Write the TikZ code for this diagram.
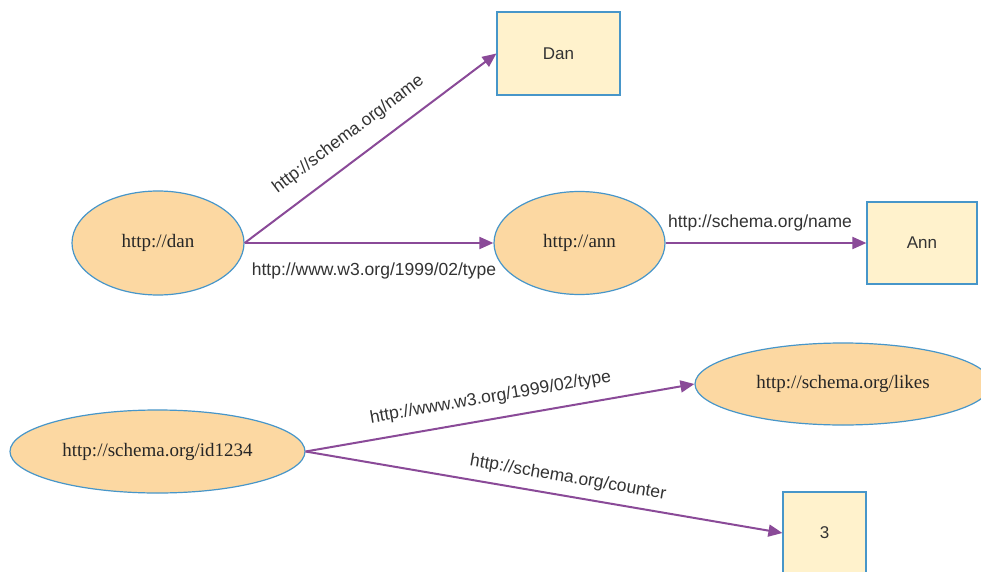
\documentclass[tikz,border=0pt]{standalone}
\usepackage{fontspec}
\setmainfont{Liberation Serif}
\setsansfont{Liberation Sans}
\usetikzlibrary{arrows.meta,shapes.geometric}
\definecolor{peach}{HTML}{FCD8A2}
\definecolor{cream}{HTML}{FFF2CC}
\definecolor{rim}{HTML}{4796C9}
\definecolor{link}{HTML}{8A4A98}
\definecolor{lbl}{HTML}{333333}

\tikzset{
  res/.style={ellipse,draw=rim,fill=peach,line width=1.2pt,inner sep=0,text=black!85,font=\fontsize{19}{22}\selectfont},
  lit/.style={rectangle,draw=rim,fill=cream,line width=1.2pt,inner sep=0,text=lbl,font=\sffamily\fontsize{17}{20}\selectfont},
  prop/.style={draw=link,line width=2pt,-{Triangle[length=14pt,width=12pt]}},
  plabel/.style={font=\sffamily\fontsize{17.5}{20}\selectfont,text=lbl,inner sep=0}
}

\begin{document}
\begin{tikzpicture}[x=1pt,y=-1pt]
  \useasboundingbox (0,0) rectangle (981,572);
  \fill[white] (0,0) rectangle (981,572);
  \clip (0,0) rectangle (981,572);
  % upper graph
  \node[res,minimum width=172pt,minimum height=104pt] (dan) at (158,243) {http://dan};
  \node[res,minimum width=171pt,minimum height=103pt] (ann) at (579.5,243) {http://ann};
  \node[lit,minimum width=123pt,minimum height=83pt] (Dan) at (558.5,53.5) {Dan};
  \node[lit,minimum width=110pt,minimum height=82pt] (Ann) at (922,243) {Ann};
  \draw[prop] (dan.east) -- node[plabel,pos=0.47,sloped,above=15pt] {http://schema.org/name} (Dan.west);
  \draw[prop] (dan.east) -- node[plabel,pos=0.52,below=19pt] {http://www.w3.org/1999/02/type} (ann.west);
  \draw[prop] (ann.east) -- node[plabel,pos=0.47,above=11pt] {http://schema.org/name} (Ann.west);
  % lower graph
  \node[res,minimum width=295pt,minimum height=83pt] (id) at (157.5,451.5) {http://schema.org/id1234};
  \node[res,minimum width=296pt,minimum height=82pt] (likes) at (843,384) {http://schema.org/likes};
  \node[lit,minimum width=83pt,minimum height=82pt] (three) at (824.5,533) {3};
  \draw[prop] (id.east) -- node[plabel,pos=0.485,sloped,above=12pt] {http://www.w3.org/1999/02/type} (likes.west);
  \draw[prop] (id.east) -- node[plabel,pos=0.544,sloped,above=9pt] {http://schema.org/counter} (three.west);
\end{tikzpicture}
\end{document}
